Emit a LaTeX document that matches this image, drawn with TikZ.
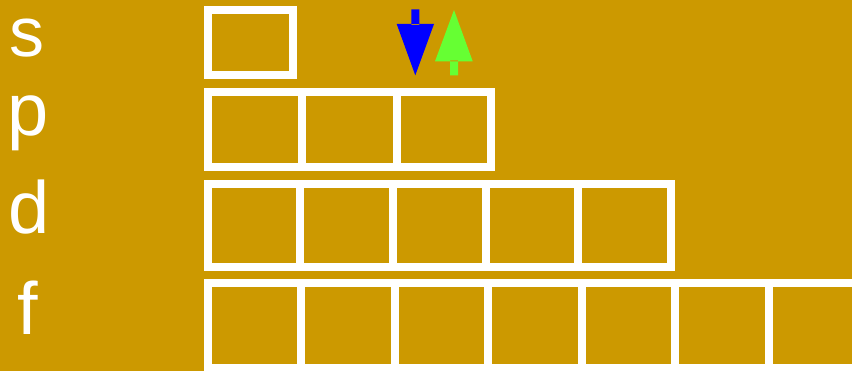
\documentclass[tikz,border=0pt]{standalone}
\usepackage{fontspec}
\setmainfont{Liberation Sans}
\definecolor{bg}{HTML}{CC9900}
\definecolor{spinup}{HTML}{0000FF}
\definecolor{spindn}{HTML}{66FF33}
\begin{document}
\begin{tikzpicture}[x=1pt,y=-1pt,
  cell/.style={draw=white,line width=8pt,inner sep=0pt,outer sep=0pt},
  lbl/.style={text=white,anchor=base west,inner sep=0pt,text height=0.75em,text depth=0.2em,font=\fontsize{74}{74}\selectfont}]
\useasboundingbox (0,0) rectangle (852,371);
\fill[bg] (0,0) rectangle (852,371);
\clip (0,0) rectangle (852,371);
% labels
\node[lbl,text height=0.55em,font=\fontsize{70}{70}\selectfont] (ls) at (9.5,56.5) {s};
\node[lbl] (lp) at (7.8,136) {p};
\node[lbl] (ld) at (8.5,234) {d};
\node[lbl] (lf) at (17,335) {f};
% s row
\node[cell,minimum width=85pt,minimum height=65.6pt] (s1) at (250,42.5) {};
% p row
\foreach \k in {0,1,2}{
  \node[cell,minimum width=94.6pt,minimum height=74.7pt] (p\k) at ({207.5+94.6*\k+47.3},129.65) {};
}
% d row
\foreach \k in {0,...,4}{
  \node[cell,minimum width=92.7pt,minimum height=82.7pt] (d\k) at ({207.5+92.7*\k+46.35},225.35) {};
}
% f row
\foreach \k in {0,...,6}{
  \node[cell,minimum width=93.5pt,minimum height=84.5pt] (f\k) at ({207.5+93.5*\k+46.75},325.75) {};
}
% arrows
\fill[spinup] (411.3,9.3) rectangle (419.3,25) (396.7,24) -- (434,24) -- (415.3,75.3) -- cycle;
\fill[spindn] (454,10) -- (472.7,61.3) -- (435,61.3) -- cycle (450,60.5) rectangle (458,75.3);
\end{tikzpicture}
\end{document}
